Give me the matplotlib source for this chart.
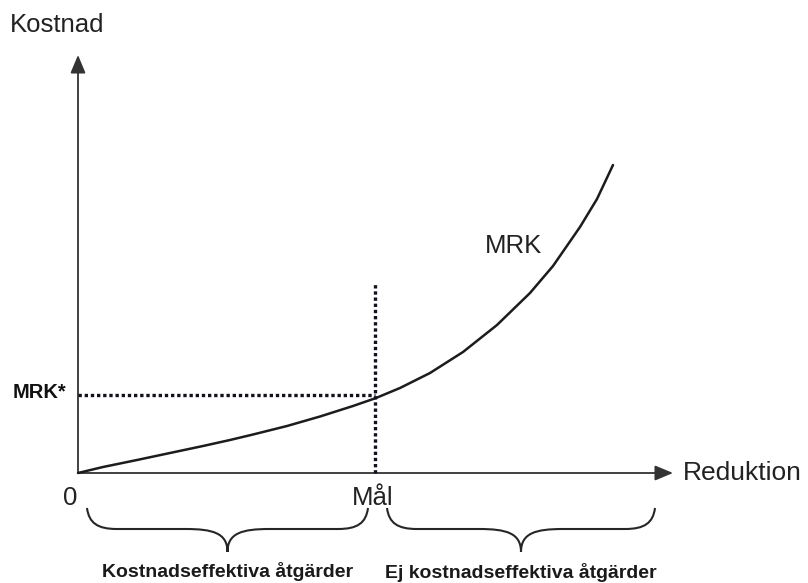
import matplotlib
matplotlib.use("Agg")
import matplotlib.pyplot as plt
from matplotlib.patches import FancyArrowPatch, PathPatch
from matplotlib.path import Path
from matplotlib import font_manager

# ---- data (arbitrary units) ----
reduction = [0, 25, 59, 92, 125, 152, 175, 209, 242, 275, 298, 322, 352, 385,
             419, 452, 475, 502, 519, 535]
cost      = [0, 6, 13, 20, 27, 33, 38.5, 47, 56.5, 67, 75, 85, 100, 121,
             148, 180, 207, 246, 274, 308]
target_x = 297          # "Mål"
target_y = 78           # "MRK*"
vline_top = 190         # top of the vertical dotted line
y_axis_top = 418
x_axis_end = 595

axis_labels = ["Kostnad", "Reduktion"]
curve_label = "MRK"
tick_labels = ["0", "Mål"]
brace_labels = ["Kostnadseffektiva åtgärder", "Ej kostnadseffektiva åtgärder"]
brace_spans = [(9, 290), (309, 577)]

# ---- fonts ----
names = {f.name for f in font_manager.fontManager.ttflist}
base = "Liberation Sans" if "Liberation Sans" in names else "DejaVu Sans"
narrow = "Liberation Sans Narrow" if "Liberation Sans Narrow" in names else None
plt.rcParams["font.family"] = [base, "DejaVu Sans"]

fig = plt.figure(figsize=(8.08, 5.83), dpi=100)
ax = fig.add_axes([0, 0, 1, 1])
ax.set_xlim(-78, 730)
ax.set_ylim(-110, 473)
ax.axis("off")

ink = "#1c1c1c"

# axes with arrows
for (p0, p1) in [((0, 0), (0, y_axis_top)), ((0, 0), (x_axis_end, 0))]:
    ax.add_patch(FancyArrowPatch(p0, p1, arrowstyle="-|>,head_length=11,head_width=4.6",
                                 mutation_scale=1, lw=1.3, color="#333333",
                                 shrinkA=0, shrinkB=0))

# curve
ax.plot(reduction, cost, color=ink, lw=1.8, solid_capstyle="round",
        solid_joinstyle="round")

# dotted guides
ax.plot([0, target_x], [target_y, target_y], color="#111122", lw=2.4,
        linestyle=(0, (1, 0.85)))
ax.plot([target_x, target_x], [0, vline_top], color="#111122", lw=2.4,
        linestyle=(0, (1, 0.85)))

# texts
ax.text(-68, 448, axis_labels[0], fontsize=18.5, va="center", ha="left", color="#222222")
ax.text(605, 0, axis_labels[1], fontsize=19, va="center", ha="left", color="#222222")
ax.text(407, 227, curve_label, fontsize=18.5, va="center", ha="left", color="#222222")
ax.text(-12, target_y + 3, "MRK*", fontsize=14.5, fontweight="bold", va="center",
        ha="right", color="#111111")
ax.text(-8, -32, tick_labels[0], fontsize=18.5, va="baseline", ha="center", color="#222222")
ax.text(target_x - 2, -32, tick_labels[1], fontsize=18.5, va="baseline", ha="center",
        color="#222222")

# braces
def brace(x0, x1, yt=-35, ym=-56, yb=-79, re=30, rt=42):
    xc = (x0 + x1) / 2
    verts = [(x0, yt),
             (x0 + 2, ym + 6), (x0 + re * 0.35, ym), (x0 + re, ym),
             (xc - rt, ym),
             (xc - rt * 0.35, ym), (xc, ym - 4), (xc, yb),
             (xc, ym - 4), (xc + rt * 0.35, ym), (xc + rt, ym),
             (x1 - re, ym),
             (x1 - re * 0.35, ym), (x1 - 2, ym + 6), (x1, yt)]
    codes = [Path.MOVETO,
             Path.CURVE4, Path.CURVE4, Path.CURVE4,
             Path.LINETO,
             Path.CURVE4, Path.CURVE4, Path.CURVE4,
             Path.CURVE4, Path.CURVE4, Path.CURVE4,
             Path.LINETO,
             Path.CURVE4, Path.CURVE4, Path.CURVE4]
    ax.add_patch(PathPatch(Path(verts, codes), fill=False, lw=1.5, edgecolor="#262626"))
    return xc

for (x0, x1), lab, yoff in zip(brace_spans, brace_labels, [-104, -105]):
    xc = brace(x0, x1)
    if narrow:
        ax.text(xc, yoff, lab, fontsize=17, fontweight="bold", family=[narrow, "DejaVu Sans"],
                ha="center", va="baseline", color="#1a1a1a")
    else:
        ax.text(xc, yoff, lab, fontsize=14, fontweight="bold",
                ha="center", va="baseline", color="#1a1a1a")

fig.savefig("out.png", dpi=100, facecolor="white")
